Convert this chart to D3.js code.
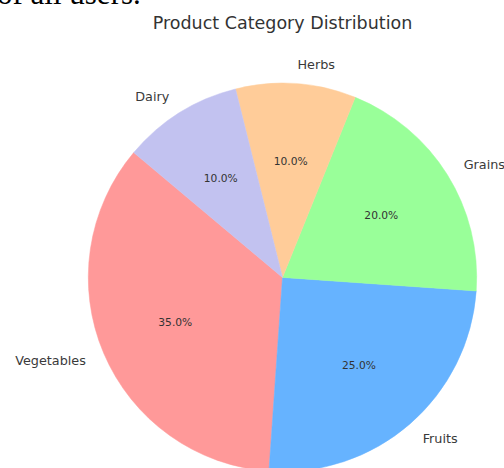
<!DOCTYPE html>
<html>
<head>
<meta charset="utf-8">
<script src="https://cdn.jsdelivr.net/npm/d3@7"></script>
<style>
  html, body { margin: 0; padding: 0; background: #fff; overflow: hidden; }
  svg { display: block; }
</style>
</head>
<body>
<svg id="chart" width="504" height="468"></svg>
<script>
const categories = ["Vegetables", "Fruits", "Grains", "Herbs", "Dairy"];
const values = [35, 25, 20, 10, 10];
const colors = ["#ff9999", "#66b3ff", "#99ff99", "#ffcc99", "#c2c2f0"];
const title = "Product Category Distribution";
const topText = "of all users.";

const svg = d3.select("#chart");
const cx = 282.5, cy = 277.4, r = 194.2;
const startDeg = 140; // matplotlib startangle, counter-clockwise

// Cropped caption text above the chart
svg.append("text")
  .attr("x", -3).attr("y", 4)
  .attr("font-family", "Liberation Serif, Times New Roman, serif")
  .attr("font-size", 31)
  .attr("fill", "#000")
  .text(topText);

svg.append("text")
  .attr("x", cx).attr("y", 29)
  .attr("text-anchor", "middle")
  .attr("font-family", "DejaVu Sans, sans-serif")
  .attr("font-size", 17.5)
  .attr("fill", "#333")
  .text(title);

const data = categories.map((c, i) => ({ name: c, value: values[i], color: colors[i] }));
const total = d3.sum(values);

// Map matplotlib angle (deg, CCW from +x) to d3 angle (rad, CW from 12 o'clock)
const toD3 = deg => (90 - deg) * Math.PI / 180;

const pie = d3.pie().value(d => d.value).sort(null)
  .startAngle(toD3(startDeg))
  .endAngle(toD3(startDeg) - 2 * Math.PI);

const arcs = pie(data);
const arc = d3.arc().innerRadius(0).outerRadius(r);

const g = svg.append("g").attr("transform", `translate(${cx},${cy})`);
g.selectAll("path.slice").data(arcs).enter().append("path")
  .attr("class", "slice")
  .attr("d", arc)
  .attr("fill", d => d.data.color)
  .attr("stroke", d => d.data.color)
  .attr("stroke-width", 0.5);

function pos(d, f) {
  const mid = (d.startAngle + d.endAngle) / 2;
  return [Math.sin(mid) * r * f, -Math.cos(mid) * r * f];
}

g.selectAll("text.lbl").data(arcs).enter().append("text")
  .attr("class", "lbl")
  .attr("x", d => pos(d, 1.1)[0])
  .attr("y", d => pos(d, 1.1)[1])
  .attr("text-anchor", d => pos(d, 1.1)[0] >= 0 ? "start" : "end")
  .attr("dominant-baseline", "central")
  .attr("font-family", "DejaVu Sans, sans-serif")
  .attr("font-size", 12.8)
  .attr("fill", "#3a3a3a")
  .text(d => d.data.name);

g.selectAll("text.pct").data(arcs).enter().append("text")
  .attr("class", "pct")
  .attr("x", d => pos(d, 0.6)[0])
  .attr("y", d => pos(d, 0.6)[1])
  .attr("text-anchor", "middle")
  .attr("dominant-baseline", "central")
  .attr("font-family", "DejaVu Sans, sans-serif")
  .attr("font-size", 10.7)
  .attr("fill", "#333")
  .text(d => (d.data.value / total * 100).toFixed(1) + "%");
</script>
</body>
</html>
